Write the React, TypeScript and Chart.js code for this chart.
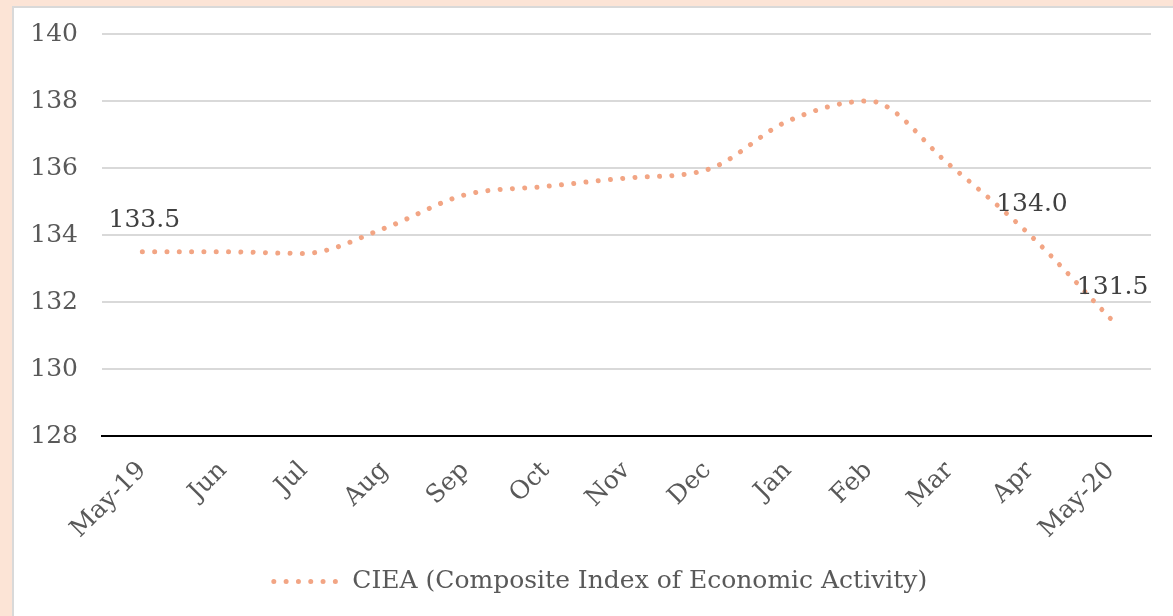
import { useEffect, useRef } from "react";
import { Chart, registerables } from "chart.js";

Chart.register(...registerables);

const categories = ["May-19", "Jun", "Jul", "Aug", "Sep", "Oct", "Nov", "Dec", "Jan", "Feb", "Mar", "Apr", "May-20"];
const ciea = [133.5, 133.5, 133.45, 134.2, 135.2, 135.45, 135.7, 135.95, 137.4, 138.0, 136.1, 134.0, 131.5];
const labelledIndexes = [0, 11, 12];
const seriesName = "CIEA (Composite Index of Economic Activity)";
const yMin = 128;
const yMax = 140;
const yStep = 2;

const FONT = "'DejaVu Serif', serif";
const LINE_COLOR = "#F2A584";
const DASH = [0.01, 12.3];

const pointLabelPlugin = {
  id: "pointLabels",
  afterDatasetsDraw(chart: any) {
    const ctx = chart.ctx;
    const meta = chart.getDatasetMeta(0);
    ctx.save();
    ctx.font = `25px ${FONT}`;
    ctx.fillStyle = "#404040";
    ctx.textAlign = "center";
    ctx.textBaseline = "middle";
    labelledIndexes.forEach((i) => {
      const el = meta.data[i];
      if (!el) return;
      ctx.fillText(ciea[i].toFixed(1), el.x + 2, el.y - 31);
    });
    ctx.restore();
  },
};

const legendShiftPlugin = {
  id: "legendShift",
  afterLayout(chart: any) {
    const lg = chart.legend;
    if (lg) {
      lg.left += 18;
      lg.right += 18;
    }
  },
};

export default function App() {
  const canvasRef = useRef<HTMLCanvasElement | null>(null);

  useEffect(() => {
    document.body.style.margin = "0";
    const canvas = canvasRef.current;
    if (!canvas) return;
    const chart = new Chart(canvas, {
      type: "line",
      data: {
        labels: categories,
        datasets: [
          {
            label: seriesName,
            data: ciea,
            borderColor: LINE_COLOR,
            backgroundColor: LINE_COLOR,
            borderWidth: 5,
            borderDash: DASH,
            borderCapStyle: "round",
            pointRadius: 0,
            cubicInterpolationMode: "monotone",
            fill: false,
          },
        ],
      },
      options: {
        animation: false,
        responsive: false,
        maintainAspectRatio: false,
        layout: { padding: { left: 0, right: 22, top: 26, bottom: 12 } },
        scales: {
          x: {
            offset: true,
            grid: { display: false, drawTicks: false },
            border: { display: true, color: "#000000", width: 2 },
            ticks: {
              color: "#595959",
              font: { family: FONT, size: 25 },
              maxRotation: 45,
              minRotation: 45,
              padding: 20,
              autoSkip: false,
            },
            afterFit(scale: any) {
              scale.height = 123;
              scale.paddingLeft = 0;
              scale.paddingRight = 0;
            },
          },
          y: {
            min: yMin,
            max: yMax,
            grid: {
              color: (c: any) => (c.tick && c.tick.value === yMin ? "rgba(0,0,0,0)" : "#D9D9D9"),
              lineWidth: 2,
              drawTicks: false,
            },
            border: { display: false },
            ticks: {
              stepSize: yStep,
              color: "#595959",
              font: { family: FONT, size: 25 },
              padding: 24,
            },
            afterFit(scale: any) {
              scale.width = 88;
              scale.paddingTop = 0;
              scale.paddingBottom = 0;
            },
          },
        },
        plugins: {
          legend: {
            position: "bottom",
            labels: {
              usePointStyle: true,
              pointStyle: "line",
              pointStyleWidth: 66,
              boxWidth: 66,
              color: "#595959",
              font: { family: FONT, size: 25 },
              padding: 10,
              generateLabels: () => [
                {
                  text: seriesName,
                  fillStyle: LINE_COLOR,
                  strokeStyle: LINE_COLOR,
                  lineWidth: 5,
                  lineDash: DASH,
                  lineCap: "round",
                  pointStyle: "line",
                  hidden: false,
                  datasetIndex: 0,
                  fontColor: "#595959",
                } as any,
              ],
            },
          },
          tooltip: { enabled: false },
        },
      },
      plugins: [pointLabelPlugin, legendShiftPlugin],
    });
    return () => chart.destroy();
  }, []);

  return (
    <div
      style={{
        position: "fixed",
        left: 0,
        top: 0,
        width: 1173,
        height: 616,
        background: "#FCE4D6",
        overflow: "hidden",
      }}
    >
      <div
        style={{
          position: "absolute",
          left: 12,
          top: 6,
          width: 1161,
          height: 610,
          background: "#FFFFFF",
          borderLeft: "2px solid #D9D9D9",
          borderTop: "2px solid #D9D9D9",
          boxSizing: "border-box",
        }}
      >
        <canvas ref={canvasRef} width={1159} height={608} style={{ display: "block" }} />
      </div>
    </div>
  );
}
